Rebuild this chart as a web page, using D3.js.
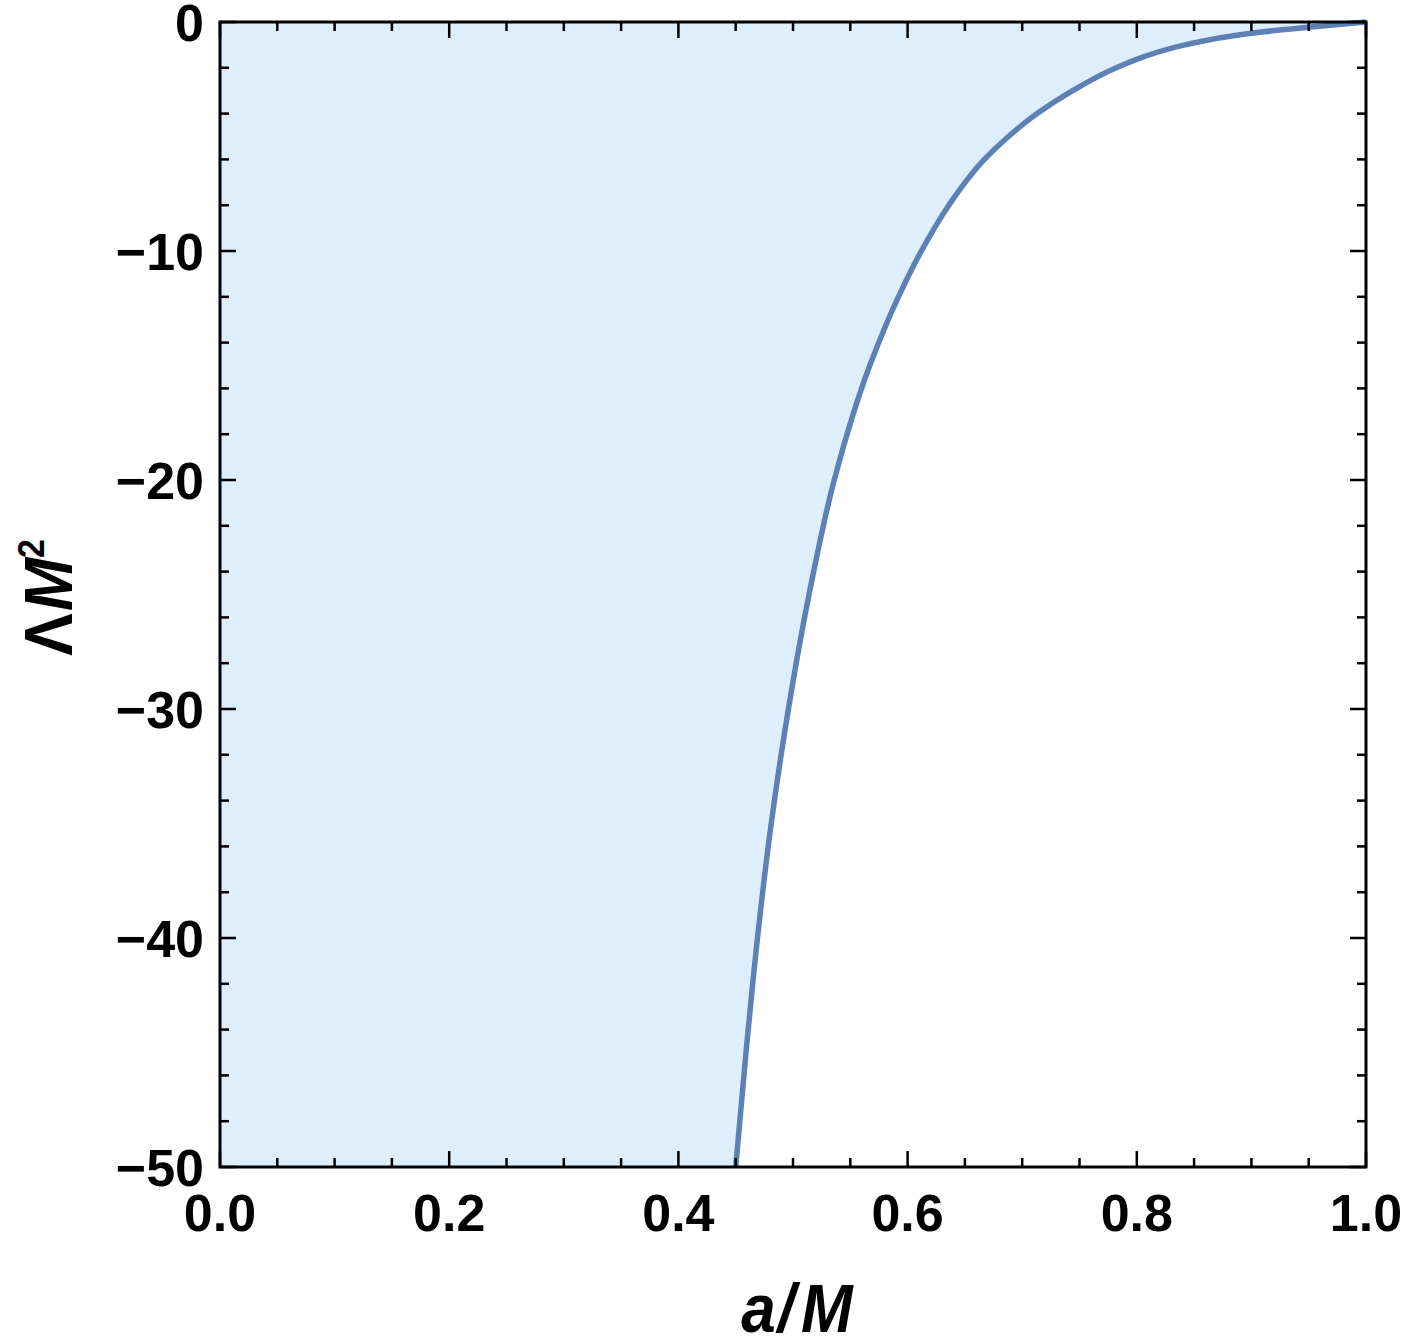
<!DOCTYPE html>
<html lang="en">
<head>
  <meta charset="UTF-8">
  <title>Lambda M^2 vs a/M</title>
  <script src="https://d3js.org/d3.v7.min.js"></script>
  <style>
    body { margin: 0; background: #fff; }
    text { font-family: "Liberation Sans", Arial, sans-serif; font-weight: bold; fill: #000; }
  </style>
</head>
<body>
  <div id="chart"></div>

  <script>
    // curve: Lambda M^2 and the matching a/M
    const lambdaVals = [-50, -45, -40, -35, -30, -25, -20, -15, -12, -10, -8, -6, -5,
                        -4, -3, -2, -1.5, -1, -0.5, -0.25, 0];
    const aVals = [0.450, 0.459, 0.469, 0.481, 0.496, 0.514, 0.536, 0.567, 0.592, 0.612, 0.636,
                   0.667, 0.688, 0.713, 0.744, 0.782, 0.807, 0.842, 0.898, 0.945, 1.000];

    const xMajor = [0, 0.2, 0.4, 0.6, 0.8, 1.0];
    const yMajor = [0, -10, -20, -30, -40, -50];

    const W = 1406, H = 1338;
    const margin = {top: 22, right: 40, bottom: 171, left: 220};
    const width = W - margin.left - margin.right,
          height = H - margin.top - margin.bottom;

    const svg = d3.select("#chart").append("svg")
      .attr("width", W)
      .attr("height", H);

    const g = svg.append("g")
      .attr("transform", `translate(${margin.left},${margin.top})`);

    const x = d3.scaleLinear().domain([0, 1]).range([0, width]);
    const y = d3.scaleLinear().domain([-50, 0]).range([height, 0]);

    const pts = aVals.map((a, i) => [a, lambdaVals[i]]);

    // a is monotone in Lambda, so interpolate along y
    const line = d3.line()
      .x(d => x(d[0]))
      .y(d => y(d[1]))
      .curve(d3.curveMonotoneY);

    // shaded region left of the curve
    g.append("path")
      .attr("d", line(pts) + `L${x(1)},${y(0)}L${x(0)},${y(0)}L${x(0)},${y(-50)}Z`)
      .attr("fill", "#ddeefd");

    g.append("path")
      .attr("d", line(pts))
      .attr("fill", "none")
      .attr("stroke", "#5e81b5")
      .attr("stroke-width", 5.5);

    // ticks on all four sides, pointing inwards
    const xMinor = d3.range(0, 1.0001, 0.05);
    const yMinor = d3.range(-50, 0.0001, 2);
    const majLen = 16, minLen = 9;
    const isMajX = v => xMajor.some(m => Math.abs(m - v) < 1e-6);
    const isMajY = v => yMajor.some(m => Math.abs(m - v) < 1e-6);

    const ticks = g.append("g").attr("stroke", "#000").attr("stroke-width", 2.5);
    xMinor.forEach(v => {
      const len = isMajX(v) ? majLen : minLen;
      ticks.append("line").attr("x1", x(v)).attr("x2", x(v)).attr("y1", height).attr("y2", height - len);
      ticks.append("line").attr("x1", x(v)).attr("x2", x(v)).attr("y1", 0).attr("y2", len);
    });
    yMinor.forEach(v => {
      const len = isMajY(v) ? majLen : minLen;
      ticks.append("line").attr("x1", 0).attr("x2", len).attr("y1", y(v)).attr("y2", y(v));
      ticks.append("line").attr("x1", width).attr("x2", width - len).attr("y1", y(v)).attr("y2", y(v));
    });

    // frame
    g.append("rect")
      .attr("width", width)
      .attr("height", height)
      .attr("fill", "none")
      .attr("stroke", "#000")
      .attr("stroke-width", 3);

    // tick labels
    g.append("g").selectAll("text")
      .data(xMajor)
      .join("text")
      .attr("x", d => x(d))
      .attr("y", height + 64)
      .attr("text-anchor", "middle")
      .style("font-size", "52px")
      .text(d => d.toFixed(1));

    g.append("g").selectAll("text")
      .data(yMajor)
      .join("text")
      .attr("x", -16)
      .attr("y", d => y(d))
      .attr("dy", "0.37em")
      .attr("text-anchor", "end")
      .style("font-size", "52px")
      .text(d => d === 0 ? "0" : "\u2212" + Math.abs(d));

    // axis titles
    const xt = svg.append("text")
      .attr("transform", `translate(${margin.left + width / 2 + 4},1332) scale(1,1.1)`)
      .attr("text-anchor", "middle")
      .style("font-size", "62px")
      .style("font-style", "italic");
    xt.append("tspan").text("a");
    xt.append("tspan").attr("dx", 2).text("/");
    xt.append("tspan").attr("dx", 6).text("M");

    const yt = svg.append("text")
      .attr("transform", `translate(72,${margin.top + height / 2 + 3}) rotate(-90) scale(1,1.08)`)
      .attr("text-anchor", "middle")
      .style("font-size", "64px");
    yt.append("tspan").text("\u039B");
    yt.append("tspan").attr("dx", 2).style("font-style", "italic").text("M");
    yt.append("tspan").attr("dy", -26).style("font-size", "34px").text("2");
  </script>
</body>
</html>
